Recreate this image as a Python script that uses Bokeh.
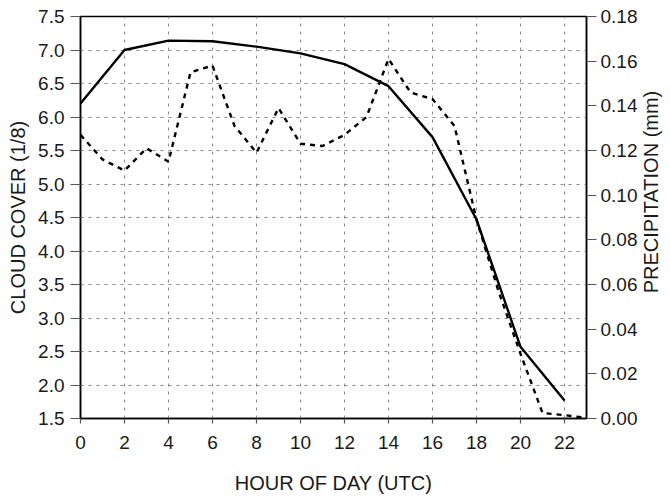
import math
from bokeh.plotting import figure
from bokeh.layouts import row
from bokeh.models import LinearAxis, Range1d, FixedTicker, PrintfTickFormatter
from bokeh.core.properties import value
from bokeh.embed import file_html
from bokeh.resources import INLINE

hours_cloud = [0, 2, 4, 6, 8, 10, 12, 14, 16, 18, 20, 22]
cloud_cover = [6.2, 7.0, 7.14, 7.13, 7.05, 6.95, 6.79, 6.46, 5.70, 4.47, 2.57, 1.77]

hours_precip = list(range(24))
precip_mm = [0.127, 0.116, 0.111, 0.121, 0.115, 0.155, 0.158, 0.131, 0.119, 0.139,
             0.123, 0.122, 0.127, 0.135, 0.161, 0.146, 0.143, 0.131, 0.089, 0.057,
             0.029, 0.0025, 0.0015, 0.0003]

x_ticks = list(range(0, 23, 2))
left_ticks = [1.5, 2.0, 2.5, 3.0, 3.5, 4.0, 4.5, 5.0, 5.5, 6.0, 6.5, 7.0, 7.5]
right_ticks = [0.0, 0.02, 0.04, 0.06, 0.08, 0.10, 0.12, 0.14, 0.16, 0.18]
right_title = "PRECIPITATION (mm)"

FONT = "Liberation Sans"
TXT = "#1a1a1a"

p = figure(width=640, height=497, x_range=Range1d(0, 23), y_range=Range1d(1.5, 7.5),
           output_backend="svg", toolbar_location=None,
           min_border_left=80, min_border_right=54, min_border_top=16, min_border_bottom=79)
p.extra_y_ranges = {"precip": Range1d(0, 0.18)}

p.outline_line_color = "black"
p.outline_line_width = 1.5

# grid
p.xgrid.ticker = FixedTicker(ticks=x_ticks[1:])
p.ygrid.ticker = FixedTicker(ticks=left_ticks[1:-1])
for g in (p.xgrid, p.ygrid):
    g.grid_line_color = "#8a8a8a"
    g.grid_line_dash = "3 5"
    g.grid_line_width = 1

# bottom axis
xa = p.xaxis[0]
xa.ticker = FixedTicker(ticks=x_ticks)
xa.axis_label = "HOUR OF DAY (UTC)"
xa.major_tick_out = 5
xa.major_tick_in = 0
xa.minor_tick_out = 0
xa.minor_tick_in = 0
xa.major_label_standoff = 12
xa.axis_label_standoff = 20

# left axis
ya = p.yaxis[0]
ya.ticker = FixedTicker(ticks=left_ticks)
ya.formatter = PrintfTickFormatter(format="%.1f")
ya.axis_label = "CLOUD COVER (1/8)"
ya.major_tick_out = 10
ya.major_tick_in = 0
ya.minor_tick_out = 0
ya.minor_tick_in = 0
ya.major_label_standoff = 6
ya.axis_label_standoff = 6

# right axis
ra = LinearAxis(y_range_name="precip", ticker=FixedTicker(ticks=right_ticks),
                formatter=PrintfTickFormatter(format="%.2f"))
ra.major_tick_out = 10
ra.major_tick_in = 0
ra.minor_tick_out = 0
ra.minor_tick_in = 0
ra.major_label_standoff = 4
p.add_layout(ra, "right")

for ax in (xa, ya, ra):
    ax.axis_line_color = "black"
    ax.axis_line_width = 1.5
    ax.major_tick_line_color = "#555555"
    ax.major_tick_line_width = 1.2
    ax.major_label_text_font = FONT
    ax.major_label_text_font_size = "19px"
    ax.major_label_text_color = TXT
    ax.axis_label_text_font = FONT
    ax.axis_label_text_font_size = "20px"
    ax.axis_label_text_font_style = "normal"
    ax.axis_label_text_color = TXT

p.line(hours_cloud, cloud_cover, line_color="black", line_width=2.4)
p.line(hours_precip, precip_mm, y_range_name="precip", line_color="black",
       line_width=2.4, line_dash="5 5")

# narrow strip holding the right-hand axis title, reading bottom to top
t = figure(width=30, height=497, x_range=Range1d(0, 30), y_range=Range1d(0, 497),
           output_backend="svg", toolbar_location=None,
           min_border_left=0, min_border_right=0, min_border_top=0, min_border_bottom=0)
t.axis.visible = False
t.grid.visible = False
t.outline_line_color = None
t.text(x=[10], y=[497 - 217], text=[right_title], angle=math.pi / 2,
       text_align="center", text_baseline="middle",
       text_font=value(FONT), text_font_size="20px", text_color=TXT)

layout = row(p, t, spacing=0)
open("out.html", "w").write(file_html(layout, INLINE))
